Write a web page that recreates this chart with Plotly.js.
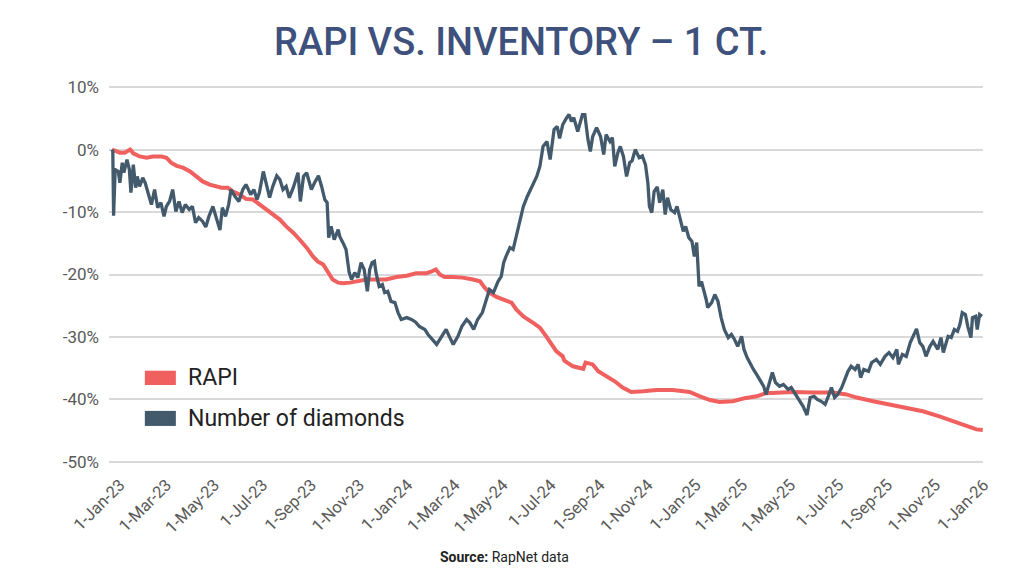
<!DOCTYPE html>
<html>
<head>
<meta charset="utf-8">
<script src="https://cdn.plot.ly/plotly-3.0.1.min.js"></script>
<style>
  html, body { margin: 0; padding: 0; background: #ffffff; }
  #chart { width: 1024px; height: 576px; }
</style>
</head>
<body>
<div id="chart"></div>
<script>
// Daily inventory of 1 ct. diamonds listed on RapNet, % change since 1-Jan-23
const invDates = [
  '2023-01-01','2023-01-02','2023-01-03','2023-01-05','2023-01-09','2023-01-11','2023-01-14','2023-01-16',
  '2023-01-20','2023-01-23','2023-01-25','2023-01-28','2023-01-31','2023-02-02','2023-02-05','2023-02-09',
  '2023-02-12','2023-02-16','2023-02-20','2023-02-24','2023-02-28','2023-03-04','2023-03-08','2023-03-11',
  '2023-03-15','2023-03-19','2023-03-23','2023-03-27','2023-03-31','2023-04-04','2023-04-09','2023-04-13',
  '2023-04-17','2023-04-21','2023-04-26','2023-04-30','2023-05-04','2023-05-09','2023-05-13','2023-05-18',
  '2023-05-21','2023-05-25','2023-05-29','2023-06-01','2023-06-06','2023-06-11','2023-06-16','2023-06-20',
  '2023-06-26','2023-06-30','2023-07-04','2023-07-07','2023-07-12','2023-07-16','2023-07-20','2023-07-24',
  '2023-07-29','2023-08-02','2023-08-06','2023-08-10','2023-08-14','2023-08-19','2023-08-25','2023-08-28',
  '2023-09-01','2023-09-05','2023-09-11','2023-09-15','2023-09-20','2023-09-24','2023-09-28','2023-10-01',
  '2023-10-03','2023-10-06','2023-10-10','2023-10-15','2023-10-17','2023-10-21','2023-10-25','2023-10-29',
  '2023-11-01','2023-11-05','2023-11-09','2023-11-13','2023-11-17','2023-11-21','2023-11-24','2023-11-27',
  '2023-11-30','2023-12-02','2023-12-06','2023-12-10','2023-12-13','2023-12-17','2023-12-21','2023-12-26',
  '2023-12-30','2024-01-03','2024-01-10','2024-01-16','2024-01-21','2024-01-26','2024-02-02','2024-02-06',
  '2024-02-12','2024-02-17','2024-02-23','2024-02-29','2024-03-04','2024-03-09','2024-03-15','2024-03-20',
  '2024-03-26','2024-03-30','2024-04-04','2024-04-09','2024-04-15','2024-04-20','2024-04-24','2024-04-29',
  '2024-05-05','2024-05-09','2024-05-12','2024-05-15','2024-05-20','2024-05-24','2024-05-28','2024-06-02',
  '2024-06-06','2024-06-11','2024-06-15','2024-06-19','2024-06-23','2024-06-27','2024-07-01','2024-07-06',
  '2024-07-10','2024-07-15','2024-07-19','2024-07-22','2024-07-26','2024-07-31','2024-08-03','2024-08-06',
  '2024-08-09','2024-08-14','2024-08-20','2024-08-23','2024-08-27','2024-08-30','2024-09-02','2024-09-07',
  '2024-09-12','2024-09-16','2024-09-19','2024-09-24','2024-09-27','2024-09-30','2024-10-04','2024-10-07',
  '2024-10-11','2024-10-15','2024-10-19','2024-10-22','2024-10-26','2024-10-31','2024-11-04','2024-11-08',
  '2024-11-11','2024-11-13','2024-11-16','2024-11-19','2024-11-23','2024-11-26','2024-11-30','2024-12-03',
  '2024-12-06','2024-12-10','2024-12-15','2024-12-18','2024-12-21','2024-12-26','2024-12-29','2025-01-02',
  '2025-01-06','2025-01-09','2025-01-12','2025-01-15','2025-01-18','2025-01-21','2025-01-24','2025-01-26',
  '2025-01-31','2025-02-04','2025-02-08','2025-02-12','2025-02-16','2025-02-21','2025-02-25','2025-03-01',
  '2025-03-05','2025-03-10','2025-03-13','2025-03-17','2025-03-21','2025-03-25','2025-03-29','2025-04-03',
  '2025-04-07','2025-04-10','2025-04-14','2025-04-18','2025-04-22','2025-04-27','2025-05-02','2025-05-08',
  '2025-05-12','2025-05-16','2025-05-20','2025-05-27','2025-06-01','2025-06-05','2025-06-10','2025-06-14',
  '2025-06-19','2025-06-24','2025-06-28','2025-07-02','2025-07-06','2025-07-10','2025-07-15','2025-07-19',
  '2025-07-23','2025-07-27','2025-08-01','2025-08-05','2025-08-08','2025-08-12','2025-08-18','2025-08-22',
  '2025-08-28','2025-09-02','2025-09-08','2025-09-13','2025-09-18','2025-09-23','2025-09-25','2025-09-30',
  '2025-10-05','2025-10-10','2025-10-15','2025-10-18','2025-10-22','2025-10-26','2025-10-30','2025-11-04',
  '2025-11-08','2025-11-14','2025-11-18','2025-11-21','2025-11-27','2025-12-01','2025-12-05','2025-12-09',
  '2025-12-12','2025-12-15','2025-12-19','2025-12-22','2025-12-26','2025-12-28','2026-01-01','2026-01-03',
  '2026-01-06','2026-01-09'
];
const invValues = [
  0.0,-0.3,-10.6,-3.2,-3.5,-5.3,-2.1,-3.7,
  -1.6,-3.2,-6.9,-2.4,-6.1,-4.3,-5.9,-4.5,
  -5.3,-6.9,-8.8,-6.4,-9.3,-8.5,-10.7,-9.1,
  -8.3,-6.4,-9.9,-8.3,-10.1,-8.8,-9.6,-9.1,
  -11.7,-10.9,-11.5,-12.4,-10.7,-9.1,-10.7,-12.9,
  -9.3,-10.7,-8.8,-6.4,-7.5,-8.3,-6.4,-5.6,
  -7.2,-6.4,-8.0,-6.9,-3.5,-5.6,-7.7,-5.9,
  -4.2,-4.8,-6.4,-5.9,-7.7,-6.1,-3.7,-8.3,
  -4.3,-3.7,-6.4,-5.3,-4.2,-5.9,-8.0,-8.5,
  -14.1,-12.3,-14.4,-12.8,-13.9,-14.9,-16.0,-19.7,
  -20.8,-19.7,-20.5,-18.1,-19.2,-22.7,-19.2,-18.1,
  -17.9,-19.7,-21.9,-21.6,-22.9,-22.7,-24.3,-24.5,
  -26.1,-27.2,-26.9,-27.2,-27.6,-28.3,-28.8,-29.6,
  -30.4,-31.2,-30.0,-28.8,-29.9,-31.2,-29.9,-28.3,
  -27.2,-27.7,-28.8,-27.2,-26.1,-24.0,-22.4,-22.9,
  -21.1,-20.3,-18.1,-17.1,-15.7,-16.0,-13.9,-11.2,
  -9.1,-7.5,-6.4,-5.1,-4.3,-2.7,0.5,1.3,
  -1.6,3.2,3.7,1.8,4.0,5.1,5.6,4.5,
  5.1,2.9,5.6,5.6,1.6,-0.3,2.1,3.5,
  2.1,-0.8,2.4,1.3,1.9,-2.7,-0.5,0.5,
  -1.1,-4.3,-2.1,-1.8,0.0,-1.3,-1.0,-2.4,
  -5.3,-9.1,-10.1,-6.7,-6.0,-8.5,-6.4,-10.4,
  -7.7,-9.6,-10.1,-9.1,-10.7,-13.1,-12.3,-14.1,
  -14.7,-17.1,-14.9,-21.9,-21.1,-22.4,-24.0,-25.3,
  -24.5,-23.2,-24.3,-26.9,-28.8,-30.1,-29.6,-30.4,
  -31.5,-29.9,-32.0,-33.3,-34.4,-35.2,-36.0,-37.1,
  -37.9,-39.2,-37.3,-35.7,-37.3,-37.9,-37.6,-38.4,
  -38.1,-38.9,-39.7,-41.1,-42.5,-39.7,-39.5,-40.0,
  -40.3,-40.8,-39.5,-38.1,-39.7,-39.2,-38.1,-36.8,
  -35.5,-34.7,-35.2,-34.4,-36.5,-35.2,-35.5,-34.1,
  -33.6,-34.4,-33.1,-32.5,-33.3,-32.0,-34.4,-32.8,
  -33.1,-30.9,-29.6,-28.7,-30.9,-31.5,-33.1,-31.5,
  -30.7,-32.0,-30.1,-32.5,-29.9,-30.1,-28.8,-29.1,
  -28.0,-26.1,-26.4,-28.3,-30.1,-26.9,-26.7,-28.8,
  -26.4,-26.7
];

// RapNet Diamond Index (RAPI) for 1 ct., % change since 1-Jan-23
const rapiDates = [
  '2023-01-01','2023-01-11','2023-01-17','2023-01-24','2023-01-28','2023-02-05','2023-02-14','2023-02-22',
  '2023-03-05','2023-03-11','2023-03-17','2023-03-24','2023-04-01','2023-04-10','2023-04-18','2023-04-26',
  '2023-05-05','2023-05-13','2023-05-20','2023-05-28','2023-06-03','2023-06-12','2023-06-20','2023-06-29',
  '2023-07-07','2023-07-16','2023-07-24','2023-08-02','2023-08-10','2023-08-19','2023-08-27','2023-09-05',
  '2023-09-13','2023-09-19','2023-09-26','2023-10-02','2023-10-08','2023-10-15','2023-10-21','2023-10-30',
  '2023-11-07','2023-11-20','2023-12-02','2023-12-15','2023-12-28','2024-01-10','2024-01-22','2024-02-04',
  '2024-02-09','2024-02-16','2024-02-21','2024-02-27','2024-03-09','2024-03-21','2024-04-03','2024-04-12',
  '2024-04-18','2024-04-24','2024-05-03','2024-05-11','2024-05-22','2024-05-28','2024-06-06','2024-06-18',
  '2024-06-27','2024-07-05','2024-07-12','2024-07-18','2024-07-26','2024-07-28','2024-08-08','2024-08-21',
  '2024-08-24','2024-09-02','2024-09-09','2024-09-19','2024-09-30','2024-10-10','2024-10-21','2024-11-05',
  '2024-11-22','2024-12-13','2025-01-03','2025-01-16','2025-01-29','2025-02-10','2025-02-27','2025-03-14',
  '2025-03-29','2025-04-10','2025-04-27','2025-05-14','2025-06-09','2025-07-04','2025-07-21','2025-08-03',
  '2025-08-24','2025-09-14','2025-10-05','2025-10-26','2025-11-16','2025-12-03','2025-12-20','2026-01-02',
  '2026-01-10'
];
const rapiValues = [
  0.0,-0.5,-0.5,0.0,-0.6,-1.1,-1.3,-1.1,
  -1.1,-1.3,-2.1,-2.6,-2.9,-3.5,-4.3,-5.1,
  -5.6,-5.9,-6.1,-6.1,-6.7,-7.2,-7.9,-8.0,
  -8.8,-9.6,-10.4,-11.2,-12.3,-13.3,-14.4,-15.7,
  -17.1,-17.9,-18.4,-19.7,-20.8,-21.3,-21.4,-21.3,
  -21.1,-20.8,-20.8,-20.8,-20.4,-20.2,-19.8,-19.8,
  -19.6,-19.2,-20.0,-20.4,-20.4,-20.5,-20.8,-21.1,
  -22.1,-22.9,-23.6,-24.0,-24.5,-25.6,-26.7,-27.7,
  -28.5,-29.9,-31.2,-32.3,-33.1,-33.8,-34.7,-35.1,
  -34.1,-34.4,-35.5,-36.3,-37.1,-38.1,-38.8,-38.7,
  -38.5,-38.5,-38.8,-39.5,-40.1,-40.4,-40.3,-39.8,
  -39.5,-39.0,-38.9,-38.8,-38.9,-38.9,-39.2,-39.7,
  -40.3,-40.8,-41.3,-41.9,-42.7,-43.5,-44.3,-44.8,
  -44.9
];

// Axis ticks
const xTickDates = [
  '2023-01-01','2023-03-01','2023-05-01','2023-07-01','2023-09-01','2023-11-01',
  '2024-01-01','2024-03-01','2024-05-01','2024-07-01','2024-09-01','2024-11-01',
  '2025-01-01','2025-03-01','2025-05-01','2025-07-01','2025-09-01','2025-11-01',
  '2026-01-01'
];
const xTickLabels = [
  '1-Jan-23','1-Mar-23','1-May-23','1-Jul-23','1-Sep-23','1-Nov-23',
  '1-Jan-24','1-Mar-24','1-May-24','1-Jul-24','1-Sep-24','1-Nov-24',
  '1-Jan-25','1-Mar-25','1-May-25','1-Jul-25','1-Sep-25','1-Nov-25',
  '1-Jan-26'
];
const yTickValues = [10, 0, -10, -20, -30, -40, -50];
const yTickLabels = ['10%', '0%', '-10%', '-20%', '-30%', '-40%', '-50%'];

const seriesNames = ['RAPI', 'Number of diamonds'];
const seriesColors = ['#f0605f', '#435a6d'];

const face = 'Roboto, Liberation Sans, sans-serif';

const traces = [
  {
    x: rapiDates, y: rapiValues, name: seriesNames[0], type: 'scatter', mode: 'lines',
    line: { color: seriesColors[0], width: 4 }, hoverinfo: 'skip'
  },
  {
    x: invDates, y: invValues, name: seriesNames[1], type: 'scatter', mode: 'lines',
    line: { color: seriesColors[1], width: 3.3 }, hoverinfo: 'skip'
  }
];

// Hand-placed legend: white panel, colour swatches and labels
const legendShapes = [
  { type: 'rect', xref: 'paper', yref: 'paper', layer: 'between',
    x0: 0.031, x1: 0.34, y0: 0.08, y1: 0.275,
    fillcolor: '#ffffff', line: { width: 0 } },
  { type: 'rect', xref: 'paper', yref: 'paper', layer: 'above',
    x0: 0.041, x1: 0.0765, y0: 0.21, y1: 0.2475,
    fillcolor: seriesColors[0], line: { width: 0 } },
  { type: 'rect', xref: 'paper', yref: 'paper', layer: 'above',
    x0: 0.041, x1: 0.0765, y0: 0.1025, y1: 0.142,
    fillcolor: seriesColors[1], line: { width: 0 } }
];

const layout = {
  width: 1024, height: 576,
  paper_bgcolor: '#ffffff', plot_bgcolor: '#ffffff',
  margin: { l: 109, r: 41, t: 84, b: 111 },
  showlegend: false,
  title: {
    text: 'RAPI VS. INVENTORY – 1 CT.',
    font: { family: face, size: 38, weight: 500, color: '#3e507c' },
    x: 0.509, xref: 'container', xanchor: 'center',
    y: 1 - 42 / 576, yref: 'container', yanchor: 'middle'
  },
  xaxis: {
    type: 'date',
    range: ['2022-12-28 04:00', '2026-01-10 08:00'],
    tickmode: 'array', tickvals: xTickDates, ticktext: xTickLabels,
    tickangle: -45, ticks: '', showgrid: false, zeroline: false, showline: false,
    tickfont: { family: face, size: 16.5, color: '#5a5a5a' },
    ticklabelshift: 8, ticklabelstandoff: 6,
    fixedrange: true
  },
  yaxis: {
    range: [-50.5, 10.5],
    tickmode: 'array', tickvals: yTickValues, ticktext: yTickLabels,
    ticks: '', showgrid: true, gridcolor: '#d9d9d9', gridwidth: 2,
    zeroline: false, showline: false,
    tickfont: { family: face, size: 17, color: '#5a5a5a' },
    ticklabelstandoff: 9,
    fixedrange: true
  },
  shapes: legendShapes,
  annotations: [
    { text: seriesNames[0], xref: 'paper', yref: 'paper', x: 0.088, y: 0.229,
      xanchor: 'left', yanchor: 'middle', showarrow: false,
      font: { family: face, size: 23, color: '#222222' } },
    { text: seriesNames[1], xref: 'paper', yref: 'paper', x: 0.088, y: 0.122,
      xanchor: 'left', yanchor: 'middle', showarrow: false,
      font: { family: face, size: 23, color: '#222222' } },
    { text: '<b>Source:</b> RapNet data', xref: 'paper', yref: 'paper',
      x: (504 - 109) / (1024 - 109 - 41), y: (465 - 557) / 381,
      xanchor: 'center', yanchor: 'middle',
      showarrow: false, font: { family: face, size: 14, color: '#222222' } }
  ]
};

Plotly.newPlot('chart', traces, layout, { staticPlot: true, displayModeBar: false });
</script>
</body>
</html>
